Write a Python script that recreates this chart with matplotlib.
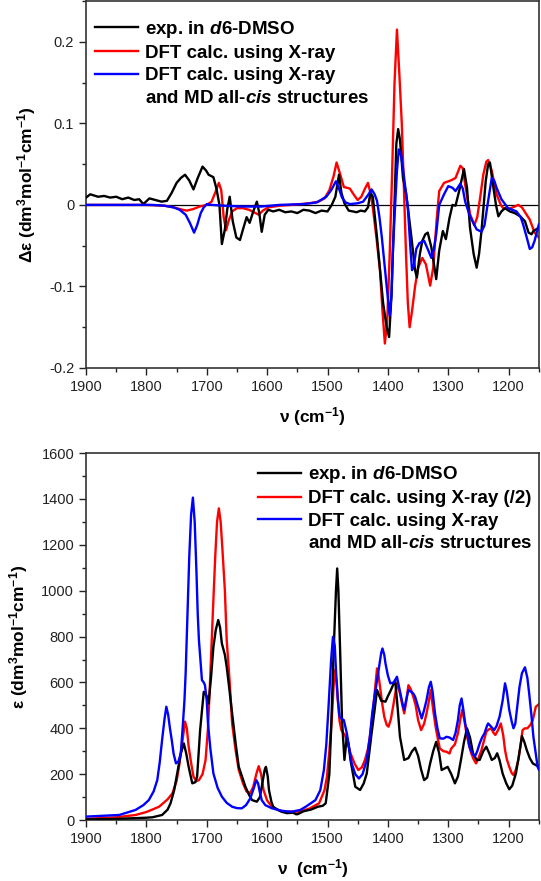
import matplotlib
matplotlib.use('Agg')
import matplotlib.pyplot as plt
from matplotlib.lines import Line2D
from matplotlib.ticker import MultipleLocator, FormatStrFormatter

# fontes parecidas com Arial
plt.rcParams['font.family'] = ['Liberation Sans', 'DejaVu Sans']
plt.rcParams['mathtext.fontset'] = 'custom'
plt.rcParams['mathtext.rm'] = 'Liberation Sans:bold'
plt.rcParams['mathtext.bf'] = 'Liberation Sans:bold'
plt.rcParams['mathtext.it'] = 'Liberation Sans:italic:bold'
plt.rcParams['axes.unicode_minus'] = False

# ---------------- VCD (painel de cima) ----------------
cd_exp_nu = [1900, 1893, 1880, 1870, 1860, 1850, 1840, 1830, 1820, 1812, 1805, 1795, 1785, 1775,
             1766, 1758, 1750, 1743, 1736, 1729, 1722, 1715, 1707, 1701, 1697, 1689, 1684, 1679,
             1675, 1670, 1666, 1662, 1657, 1651, 1645, 1640, 1634, 1629, 1623, 1617, 1613, 1609,
             1604, 1598, 1590, 1580, 1570, 1560, 1550, 1540, 1530, 1520, 1510, 1500, 1493, 1487,
             1481, 1477, 1472, 1465, 1458, 1452, 1445, 1438, 1433, 1429, 1425, 1418, 1413, 1408,
             1402, 1398, 1394, 1390, 1386, 1383, 1380, 1375, 1370, 1367, 1361, 1355, 1352, 1347,
             1343, 1338, 1334, 1328, 1320, 1315, 1309, 1304, 1298, 1293, 1288, 1282, 1274, 1269,
             1264, 1258, 1253, 1249, 1245, 1238, 1234, 1231, 1226, 1221, 1217, 1212, 1206, 1198,
             1190, 1181, 1173, 1167, 1162, 1159, 1150]
cd_exp = [0.009, 0.013, 0.010, 0.011, 0.009, 0.010, 0.007, 0.009, 0.006, 0.007, 0.001, 0.008, 0.006, 0.004,
          0.005, 0.015, 0.027, 0.033, 0.037, 0.030, 0.019, 0.033, 0.047, 0.042, 0.037, 0.034, 0.020, 0.000,
          -0.048, -0.030, -0.005, 0.010, -0.020, -0.040, -0.043, -0.030, -0.015, -0.022, -0.008, 0.004, -0.010, -0.033,
          -0.012, -0.006, -0.008, -0.006, -0.009, -0.008, -0.010, -0.006, -0.007, -0.010, -0.007, -0.008, 0.000, 0.010,
          0.037, 0.015, 0.002, -0.007, -0.008, -0.009, -0.007, -0.008, -0.003, 0.015, 0.010, -0.040, -0.080, -0.120,
          -0.150, -0.162, -0.110, -0.020, 0.075, 0.093, 0.080, 0.033, 0.015, -0.003, -0.040, -0.080, -0.089, -0.060,
          -0.044, -0.036, -0.034, -0.052, -0.091, -0.056, -0.032, -0.042, -0.016, 0.000, -0.001, 0.017, 0.044, 0.021,
          -0.028, -0.060, -0.077, -0.060, -0.032, 0.029, 0.050, 0.052, 0.025, 0.000, -0.014, -0.008, -0.004, -0.008,
          -0.010, -0.014, -0.020, -0.034, -0.036, -0.032, -0.028]

cd_xray_nu = [1900, 1800, 1770, 1755, 1740, 1733, 1722, 1712, 1700, 1692, 1686, 1680, 1676, 1672,
              1668, 1664, 1658, 1650, 1640, 1630, 1622, 1614, 1607, 1598, 1580, 1560, 1530, 1515,
              1505, 1497, 1490, 1485, 1480, 1473, 1463, 1456, 1450, 1444, 1438, 1433, 1429, 1425,
              1419, 1413, 1409, 1405, 1401, 1397, 1393, 1389, 1385, 1381, 1377, 1373, 1370, 1367,
              1364, 1360, 1355, 1350, 1343, 1337, 1330, 1325, 1319, 1315, 1307, 1296, 1288, 1280,
              1276, 1272, 1264, 1257, 1252, 1247, 1242, 1237, 1234, 1228, 1220, 1213, 1209, 1200,
              1193, 1184, 1178, 1172, 1165, 1157, 1150]
cd_xray = [0.000, 0.000, -0.001, -0.003, -0.006, -0.007, -0.005, -0.002, 0.000, 0.004, 0.015, 0.027, 0.018, -0.015,
           -0.031, -0.020, -0.008, -0.004, -0.004, -0.006, -0.009, -0.012, -0.007, -0.003, -0.001, 0.000, 0.002, 0.004,
           0.008, 0.018, 0.035, 0.052, 0.040, 0.022, 0.020, 0.012, 0.006, 0.010, 0.020, 0.027, 0.015, -0.003,
           -0.040, -0.081, -0.130, -0.170, -0.140, -0.060, 0.040, 0.150, 0.215, 0.160, 0.100, 0.010, -0.060, -0.120,
           -0.150, -0.130, -0.100, -0.077, -0.065, -0.073, -0.099, -0.077, -0.016, 0.017, 0.027, 0.030, 0.033, 0.048,
           0.045, 0.025, -0.011, -0.025, -0.015, 0.010, 0.037, 0.053, 0.055, 0.042, 0.013, 0.000, -0.004, -0.005,
           -0.003, 0.000, -0.003, -0.010, -0.018, -0.034, -0.040]

cd_md_nu = [1900, 1790, 1770, 1755, 1745, 1735, 1728, 1721, 1716, 1710, 1705, 1700, 1692, 1670,
            1640, 1610, 1580, 1540, 1518, 1502, 1494, 1486, 1481, 1476, 1470, 1463, 1450, 1441,
            1433, 1427, 1422, 1418, 1414, 1410, 1406, 1402, 1397, 1394, 1392, 1388, 1385, 1382,
            1378, 1375, 1371, 1367, 1363, 1360, 1357, 1353, 1348, 1340, 1333, 1328, 1324, 1320,
            1315, 1307, 1300, 1293, 1288, 1280, 1276, 1272, 1264, 1253, 1245, 1240, 1235, 1228,
            1224, 1220, 1212, 1201, 1187, 1180, 1176, 1170, 1165, 1161, 1157, 1150]
cd_md = [0.000, 0.000, -0.001, -0.003, -0.006, -0.012, -0.022, -0.034, -0.025, -0.010, -0.003, 0.001, 0.000, -0.001,
         -0.002, -0.002, 0.000, 0.001, 0.003, 0.010, 0.018, 0.029, 0.020, 0.009, 0.003, 0.001, 0.002, 0.004,
         0.012, 0.019, 0.013, 0.005, -0.015, -0.040, -0.070, -0.100, -0.136, -0.110, -0.060, 0.000, 0.042, 0.068,
         0.060, 0.045, 0.020, -0.003, -0.050, -0.080, -0.075, -0.054, -0.047, -0.044, -0.056, -0.065, -0.055, -0.036,
         0.000, 0.013, 0.023, 0.021, 0.017, 0.026, 0.020, 0.004, -0.014, -0.030, -0.033, -0.025, 0.000, 0.033,
         0.030, 0.021, 0.007, -0.004, -0.008, -0.015, -0.024, -0.040, -0.054, -0.052, -0.044, -0.024]

# ---------------- IR (painel de baixo) ----------------
ir_exp_nu = [1900, 1850, 1801, 1790, 1774, 1765, 1760, 1754, 1749, 1743, 1738, 1734, 1730, 1724,
             1719, 1716, 1711, 1705, 1700, 1697, 1693, 1689, 1685, 1681, 1678, 1675, 1670, 1667,
             1663, 1658, 1652, 1647, 1641, 1636, 1630, 1625, 1617, 1612, 1609, 1604, 1602, 1599,
             1597, 1593, 1590, 1583, 1576, 1567, 1557, 1552, 1549, 1540, 1527, 1516, 1508, 1503,
             1497, 1494, 1490, 1486, 1484, 1482, 1479, 1476, 1472, 1468, 1465, 1462, 1454, 1446,
             1440, 1435, 1427, 1422, 1418, 1414, 1411, 1404, 1400, 1395, 1388, 1384, 1380, 1373,
             1366, 1360, 1355, 1350, 1345, 1340, 1335, 1330, 1325, 1320, 1315, 1311, 1306, 1301,
             1295, 1289, 1284, 1279, 1274, 1269, 1264, 1259, 1253, 1248, 1242, 1237, 1232, 1228,
             1223, 1219, 1215, 1210, 1204, 1199, 1194, 1188, 1183, 1178, 1174, 1170, 1165, 1160,
             1150]
ir_exp = [3, 5, 10, 12, 22, 45, 73, 130, 203, 290, 334, 290, 232, 160,
          165, 189, 392, 559, 540, 508, 620, 755, 830, 872, 840, 770, 720, 668,
          580, 465, 330, 232, 185, 145, 110, 87, 80, 100, 145, 220, 232, 190,
          131, 80, 58, 45, 36, 30, 32, 25, 26, 38, 46, 58, 62, 73,
          200, 400, 727, 1000, 1097, 1000, 727, 436, 262, 363, 330, 262, 145, 131,
          160, 203, 378, 480, 567, 540, 520, 516, 540, 567, 610, 494, 363, 262,
          270, 300, 315, 280, 220, 174, 185, 247, 300, 341, 290, 218, 225, 232,
          200, 160, 190, 262, 340, 400, 360, 291, 262, 262, 300, 320, 290, 262,
          270, 291, 260, 203, 160, 134, 150, 203, 280, 366, 340, 305, 270, 247,
          232]

ir_xray_nu = [1900, 1850, 1818, 1800, 1779, 1765, 1757, 1750, 1746, 1740, 1736, 1733, 1730, 1726,
              1722, 1717, 1713, 1707, 1702, 1698, 1694, 1690, 1686, 1683, 1680, 1677, 1674, 1670,
              1667, 1662, 1658, 1652, 1647, 1640, 1634, 1628, 1623, 1618, 1614, 1610, 1606, 1600,
              1592, 1580, 1570, 1560, 1547, 1530, 1514, 1505, 1501, 1497, 1493, 1490, 1488, 1485,
              1483, 1480, 1477, 1474, 1471, 1466, 1462, 1455, 1449, 1443, 1438, 1433, 1429, 1425,
              1422, 1418, 1416, 1413, 1409, 1406, 1402, 1399, 1395, 1391, 1385, 1380, 1376, 1373,
              1370, 1366, 1362, 1358, 1354, 1350, 1345, 1340, 1336, 1332, 1329, 1325, 1321, 1317,
              1314, 1308, 1303, 1298, 1295, 1289, 1284, 1280, 1277, 1273, 1270, 1266, 1262, 1258,
              1254, 1250, 1245, 1241, 1237, 1233, 1229, 1225, 1222, 1217, 1213, 1209, 1206, 1203,
              1199, 1195, 1192, 1188, 1184, 1180, 1177, 1173, 1169, 1164, 1160, 1155, 1150]
ir_xray = [5, 12, 22, 35, 58, 90, 116, 170, 232, 350, 429, 400, 320, 250,
           189, 170, 174, 200, 262, 400, 639, 900, 1148, 1300, 1359, 1300, 1177, 1000,
           785, 600, 421, 300, 218, 160, 124, 118, 145, 200, 235, 200, 131, 85,
           58, 42, 36, 37, 36, 50, 73, 130, 189, 300, 436, 580, 654, 600,
           523, 430, 392, 380, 371, 330, 291, 245, 218, 230, 262, 310, 378, 470,
           552, 661, 640, 581, 500, 450, 415, 407, 440, 501, 596, 552, 500, 465,
           510, 588, 570, 538, 500, 436, 392, 420, 465, 520, 567, 480, 407, 350,
           312, 300, 298, 290, 312, 330, 378, 440, 480, 430, 378, 330, 291, 265,
           247, 270, 305, 345, 385, 395, 400, 380, 371, 395, 421, 370, 305, 265,
           232, 205, 196, 220, 262, 330, 392, 400, 400, 415, 436, 494, 505]

ir_md_nu = [1900, 1845, 1818, 1805, 1796, 1788, 1782, 1778, 1774, 1770, 1767, 1764, 1761, 1758,
            1755, 1751, 1747, 1743, 1740, 1737, 1735, 1732, 1729, 1726, 1723, 1720, 1717, 1715,
            1713, 1710, 1708, 1705, 1703, 1700, 1698, 1694, 1689, 1682, 1675, 1667, 1658, 1650,
            1642, 1635, 1628, 1622, 1618, 1615, 1612, 1609, 1603, 1592, 1575, 1560, 1545, 1535,
            1520, 1512, 1506, 1502, 1498, 1494, 1491, 1488, 1486, 1483, 1480, 1476, 1473, 1468,
            1464, 1460, 1454, 1448, 1442, 1435, 1430, 1426, 1422, 1418, 1414, 1411, 1409, 1406,
            1404, 1400, 1396, 1390, 1385, 1380, 1376, 1373, 1370, 1366, 1362, 1358, 1355, 1350,
            1344, 1340, 1336, 1332, 1329, 1326, 1322, 1318, 1314, 1308, 1303, 1298, 1292, 1288,
            1284, 1281, 1278, 1275, 1272, 1268, 1265, 1260, 1256, 1252, 1248, 1244, 1240, 1236,
            1234, 1230, 1224, 1220, 1215, 1210, 1206, 1203, 1199, 1195, 1192, 1189, 1186, 1182,
            1178, 1173, 1169, 1166, 1162, 1159, 1155, 1152, 1150]
ir_md = [15, 22, 44, 65, 87, 125, 174, 250, 349, 440, 494, 460, 400, 349,
         290, 247, 255, 291, 400, 520, 639, 900, 1148, 1330, 1406, 1300, 1075, 900,
         785, 680, 610, 600, 588, 520, 421, 310, 203, 140, 102, 75, 58, 52,
         51, 65, 94, 140, 174, 160, 120, 87, 65, 51, 40, 36, 44, 60,
         87, 130, 218, 330, 509, 700, 799, 760, 654, 530, 451, 440, 436, 378,
         310, 247, 200, 181, 200, 262, 360, 465, 540, 610, 680, 730, 748, 720,
         683, 630, 596, 600, 625, 560, 510, 480, 520, 567, 560, 552, 538, 494,
         443, 480, 523, 580, 603, 560, 465, 400, 356, 355, 363, 360, 349, 380,
         436, 500, 530, 480, 421, 370, 320, 290, 276, 300, 334, 360, 378, 410,
         421, 410, 392, 410, 451, 520, 596, 560, 480, 430, 400, 420, 490, 581,
         640, 666, 620, 552, 450, 363, 290, 232, 220]

lw = 1.7
fig = plt.figure(figsize=(5.41, 8.81), dpi=100)
ax1 = fig.add_axes([0.159, 0.5823, 0.837, 0.4165])
ax2 = fig.add_axes([0.159, 0.0692, 0.837, 0.4165])

# painel de cima
ax1.axhline(0, color='black', lw=0.9, zorder=1)
ax1.plot(cd_exp_nu, cd_exp, color='black', lw=lw, label='exp. in $\\mathit{d6}$-DMSO', zorder=3)
ax1.plot(cd_xray_nu, cd_xray, color='#ff0000', lw=lw, label='DFT calc. using X-ray', zorder=2)
ax1.plot(cd_md_nu, cd_md, color='#0000ff', lw=lw, label='DFT calc. using X-ray', zorder=4)
ax1.set_ylim(-0.2, 0.25)
ax1.yaxis.set_major_locator(MultipleLocator(0.1))
ax1.yaxis.set_minor_locator(MultipleLocator(0.05))
ax1.yaxis.set_major_formatter(FormatStrFormatter('%g'))
ax1.set_ylabel('Δε (dm$^{3}$mol$^{-1}$cm$^{-1}$)', fontsize=12.5, fontweight='bold', labelpad=8)
ax1.set_xlabel('ν (cm$^{-1}$)', fontsize=12.5, fontweight='bold', labelpad=8)

# painel de baixo
ax2.plot(ir_exp_nu, ir_exp, color='black', lw=lw, label='exp. in $\\mathit{d6}$-DMSO', zorder=3)
ax2.plot(ir_xray_nu, ir_xray, color='#ff0000', lw=lw, label='DFT calc. using X-ray (/2)', zorder=2)
ax2.plot(ir_md_nu, ir_md, color='#0000ff', lw=lw, label='DFT calc. using X-ray', zorder=4)
ax2.set_ylim(0, 1600)
ax2.yaxis.set_major_locator(MultipleLocator(200))
ax2.yaxis.set_minor_locator(MultipleLocator(100))
ax2.set_ylabel('ε (dm$^{3}$mol$^{-1}$cm$^{-1}$)', fontsize=12.5, fontweight='bold', labelpad=8)
ax2.set_xlabel('ν  (cm$^{-1}$)', fontsize=12.5, fontweight='bold', labelpad=8)

for ax in (ax1, ax2):
    ax.set_xlim(1900, 1150)
    ax.xaxis.set_major_locator(MultipleLocator(100))
    ax.xaxis.set_minor_locator(MultipleLocator(50))
    ax.tick_params(which='major', direction='out', length=5, width=1, labelsize=10.5, colors='#222222')
    ax.tick_params(which='minor', direction='out', length=3, width=1, colors='#222222')
    for s in ax.spines.values():
        s.set_linewidth(1.2)
        s.set_color('#333333')

    # legenda com a segunda linha do terceiro item como entrada sem traço
    handles, labels = ax.get_legend_handles_labels()
    handles.append(Line2D([], [], color='none'))
    labels.append('and MD all-$\\mathit{cis}$ structures')
    if ax is ax1:
        pos, loc = (0.02, 0.952), 'upper left'
    else:
        pos, loc = (0.985, 0.97), 'upper right'
    leg = ax.legend(handles, labels, loc=loc, bbox_to_anchor=pos, frameon=False,
                    prop={'weight': 'bold', 'size': 13.5}, handlelength=2.3,
                    handletextpad=0.35, labelspacing=0.28, borderpad=0, borderaxespad=0)

fig.savefig('out.png', dpi=100)
